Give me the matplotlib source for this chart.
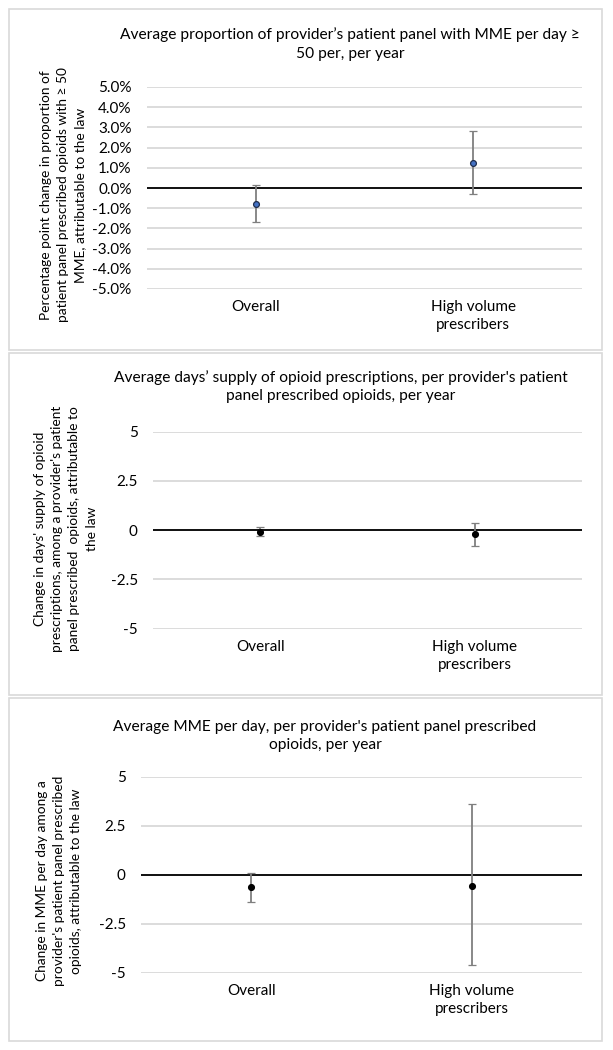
import matplotlib
matplotlib.use("Agg")
import matplotlib.pyplot as plt
from matplotlib.patches import Rectangle
from matplotlib.transforms import ScaledTranslation

plt.rcParams['font.family'] = ['Lato', 'DejaVu Sans']

# data
cats = ["Overall", "High volume\nprescribers"]

mme50_est = [-0.78, 1.25]      # percentage points
mme50_lo = [-1.67, -0.28]
mme50_hi = [0.13, 2.80]

days_est = [-0.07, -0.20]
days_lo = [-0.29, -0.81]
days_hi = [0.17, 0.39]

mme_est = [-0.64, -0.56]
mme_lo = [-1.39, -4.63]
mme_hi = [0.10, 3.59]

titles = [
    "Average proportion of provider\u2019s patient panel with MME per day \u2265\n50 per, per year",
    "Average days\u2019 supply of opioid prescriptions, per provider's patient\npanel prescribed opioids, per year",
    "Average MME per day, per provider's patient panel prescribed\nopioids, per year",
]
ylabels = [
    "Percentage point change in proportion of\npatient panel prescribed opioids with \u2265 50\nMME, attributable to the law",
    "Change in days' supply of opioid\nprescriptions, among a provider's patient\npanel prescribed  opioids, attributable to\nthe law",
    "Change in MME per day among a\nprovider's patient panel prescribed\nopioids, attributable to the law",
]

W, H = 613, 1050
fig = plt.figure(figsize=(W / 100, H / 100), dpi=100)

def fx(px):
    return px / W

def fy(py):
    return 1 - py / H

# panel layout in pixels: box, plot area, title centre, ylabel centre, label shift
panels = [
    dict(box=(9, 9, 602, 350), plot=(147, 87, 582, 289), title=(350, 44), ylab=(63, 195), shift=0),
    dict(box=(9, 353, 602, 695), plot=(153, 431.7, 582, 628.7), title=(341, 386.5), ylab=(66, 529), shift=-14),
    dict(box=(9, 698, 602, 1041), plot=(141, 776.7, 582, 972.7), title=(325, 736), ylab=(59, 881), shift=-7),
]

series = [
    (mme50_est, mme50_lo, mme50_hi),
    (days_est, days_lo, days_hi),
    (mme_est, mme_lo, mme_hi),
]

for i, p in enumerate(panels):
    x0, y0, x1, y1 = p["box"]
    fig.patches.append(Rectangle((fx(x0), fy(y1)), fx(x1 - x0), (y1 - y0) / H,
                                 transform=fig.transFigure, fill=False,
                                 edgecolor="#d9d9d9", linewidth=1.2))
    ax0, ay0, ax1, ay1 = p["plot"]
    ax = fig.add_axes([fx(ax0), fy(ay1), fx(ax1 - ax0), (ay1 - ay0) / H])

    est, lo, hi = series[i]
    xs = [0, 1]
    yerr = [[e - l for e, l in zip(est, lo)], [h - e for e, h in zip(est, hi)]]

    if i == 0:
        ticks = list(range(-5, 6))
        ticklabels = ["%.1f%%" % t for t in ticks]
        mfc, mec = "#4472c4", "#1f2d4d"
    else:
        ticks = [-5, -2.5, 0, 2.5, 5]
        ticklabels = ["-5", "-2.5", "0", "2.5", "5"]
        mfc, mec = "black", "black"

    ax.set_ylim(-5, 5)
    ax.set_xlim(-0.5, 1.5)
    ax.set_yticks(ticks)
    ax.set_yticklabels(ticklabels, fontsize=11)
    ax.yaxis.grid(True, color="#d9d9d9", linewidth=1.3)
    ax.set_axisbelow(True)
    ax.axhline(0, color="black", linewidth=1.3, zorder=2)

    ax.errorbar(xs, est, yerr=yerr, fmt="o", color="#7f7f7f", ecolor="#7f7f7f",
                elinewidth=1.3, capsize=3, capthick=1.3, markersize=4.2,
                markerfacecolor=mfc, markeredgecolor=mec, markeredgewidth=0.9, zorder=3)

    ax.set_xticks(xs)
    ax.set_xticklabels(cats, fontsize=11, linespacing=1.35)
    off = ScaledTranslation(p["shift"] / 100, 0, fig.dpi_scale_trans)
    for lab in ax.get_xticklabels():
        lab.set_transform(lab.get_transform() + off)
    ax.tick_params(axis="y", length=0, pad=11)
    ax.tick_params(axis="x", length=0, pad=8)
    for s in ax.spines.values():
        s.set_visible(False)

    tx, ty = p["title"]
    fig.text(fx(tx), fy(ty), titles[i], ha="center", va="center",
             fontsize=11.2, linespacing=1.4)
    lx, ly = p["ylab"]
    fig.text(fx(lx), fy(ly), ylabels[i], ha="center", va="center", rotation=90,
             fontsize=9.9, linespacing=1.5, multialignment="center")

fig.savefig("out.png", dpi=100)
